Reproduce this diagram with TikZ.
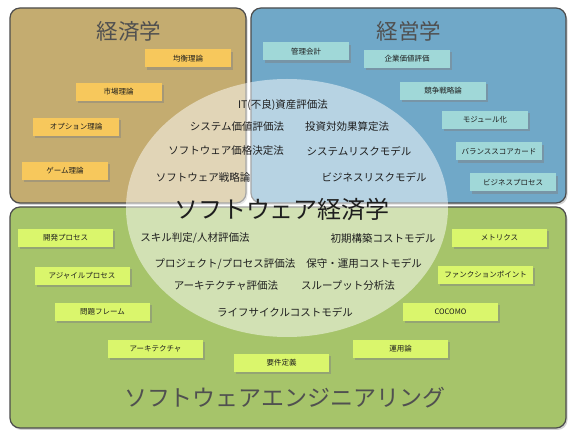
\documentclass[tikz,border=0pt]{standalone}
\usepackage{fontspec}
\setmainfont{Noto Sans CJK JP}
\usetikzlibrary{shadows}
\definecolor{tanbox}{RGB}{196,172,112}
\definecolor{bluebox}{RGB}{112,168,200}
\definecolor{greenbox}{RGB}{166,196,106}
\definecolor{ysticky}{RGB}{247,200,92}
\definecolor{csticky}{RGB}{160,216,216}
\definecolor{gsticky}{RGB}{218,246,108}
\definecolor{titlegray}{RGB}{80,80,80}
\definecolor{txt}{RGB}{30,30,30}
\begin{document}
\begin{tikzpicture}[x=1pt,y=-1pt,
  bigbox/.style={draw=black!70, line width=1.2pt, rounded corners=10pt, inner sep=0pt,
    drop shadow={shadow xshift=1.5pt, shadow yshift=-2pt, opacity=0.35}},
  sticky/.style={inner sep=0pt, minimum height=18pt, text=txt,
    font=\fontsize{7.5}{8}\selectfont,
    drop shadow={shadow xshift=2pt, shadow yshift=-2.5pt, opacity=0.45}},
  ys/.style={sticky, fill=ysticky, minimum width=86pt},
  cs/.style={sticky, fill=csticky, minimum width=86pt},
  gs/.style={sticky, fill=gsticky, minimum width=95pt},
  ctext/.style={text=txt, font=\fontsize{10.5}{12}\selectfont, inner sep=0pt},
  title/.style={text=titlegray, inner sep=0pt}
]
\useasboundingbox (0,0) rectangle (574,443);
\fill[white] (0,0) rectangle (574,443);

% big areas
\node[bigbox, fill=tanbox, minimum width=236pt, minimum height=195pt] (econ) at (128,105.5) {};
\node[bigbox, fill=bluebox, minimum width=315pt, minimum height=195pt] (mgmt) at (408.5,105.5) {};
\node[bigbox, fill=greenbox, minimum width=556pt, minimum height=221pt] (se) at (288,317.5) {};

% translucent ellipse
\fill[white, opacity=0.5] (287,208) ellipse [x radius=161, y radius=129];
\coordinate (ell) at (287,208);

% titles
\node[title, font=\fontsize{21.5}{24}\selectfont] (t1) at (129,31) {経済学};
\node[title, font=\fontsize{21.5}{24}\selectfont] (t2) at (409,31) {経営学};
\node[title, font=\fontsize{23}{26}\selectfont] (t4) at (285,398) {ソフトウェアエンジニアリング};
\node[text=txt, inner sep=0pt, font=\fontsize{24}{28}\selectfont] (t3) at (282,209) {ソフトウェア経済学};

% economics stickies
\node[ys] (e1) at (188,58.5) {均衡理論};
\node[ys] (e2) at (118.5,92) {市場理論};
\node[ys] (e3) at (76,127) {オプション理論};
\node[ys] (e4) at (65,171) {ゲーム理論};

% management stickies
\node[cs] (m1) at (306,51.5) {管理会計};
\node[cs] (m2) at (407,59) {企業価値評価};
\node[cs] (m3) at (443,91) {競争戦略論};
\node[cs] (m4) at (485,120) {モジュール化};
\node[cs] (m5) at (499,151.5) {バランススコアカード};
\node[cs] (m6) at (513,182.5) {ビジネスプロセス};

% SE stickies
\node[gs] (s1) at (65.5,238) {開発プロセス};
\node[gs] (s2) at (82,276) {アジャイルプロセス};
\node[gs] (s3) at (102.5,312) {問題フレーム};
\node[gs] (s4) at (155.5,349) {アーキテクチャ};
\node[gs] (s5) at (281.5,363) {要件定義};
\node[gs] (s6) at (400.5,349) {運用論};
\node[gs] (s7) at (450.5,312) {COCOMO};
\node[gs] (s8) at (485.5,275) {ファンクションポイント};
\node[gs] (s9) at (499.5,238) {メトリクス};

% centre texts
\node[ctext] (c1) at (283,105) {IT(不良)資産評価法};
\node[ctext] (c2) at (237,127) {システム価値評価法};
\node[ctext] (c3) at (347,127) {投資対効果算定法};
\node[ctext] (c4) at (226,151) {ソフトウェア価格決定法};
\node[ctext] (c5) at (359,151) {システムリスクモデル};
\node[ctext] (c6) at (203,177) {ソフトウェア戦略論};
\node[ctext] (c7) at (374,177) {ビジネスリスクモデル};
\node[ctext] (c8) at (195,238) {スキル判定/人材評価法};
\node[ctext] (c9) at (383,238) {初期構築コストモデル};
\node[ctext] (c10) at (225,264) {プロジェクト/プロセス評価法};
\node[ctext] (c11) at (364,263) {保守・運用コストモデル};
\node[ctext] (c12) at (226,286) {アーキテクチャ評価法};
\node[ctext] (c13) at (348,286) {スループット分析法};
\node[ctext] (c14) at (285,312) {ライフサイクルコストモデル};
\end{tikzpicture}
\end{document}
